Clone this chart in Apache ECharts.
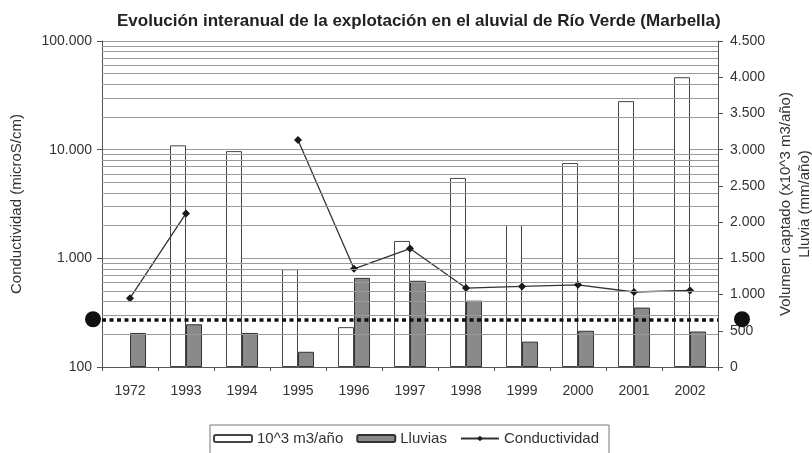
<!DOCTYPE html>
<html lang="es">
<head>
  <meta charset="UTF-8" />
  <title>Río Verde</title>
  <script src="https://cdn.jsdelivr.net/npm/echarts@6/dist/echarts.min.js"></script>
</head>
<body style="margin:0;background:#fff;">
  <div id="main" style="width: 812px; height: 453px;"></div>
  <script type="text/javascript">
    // datos
    var anios = ['1972', '1993', '1994', '1995', '1996', '1997', '1998', '1999', '2000', '2001', '2002']
    var volumen = [null, 3060, 2980, 1350, 550, 1740, 2610, 1960, 2815, 3670, 4000]   // 10^3 m3/año
    var lluvias = [470, 590, 470, 210, 1230, 1190, 915, 350, 500, 820, 490]           // mm/año
    var conductividad = [430, 2590, null, 12300, 800, 1230, 533, 551, 571, 490, 507]  // microS/cm
    var umbral = 275

    // lineas secundarias del eje logaritmico (2..9 de cada decada)
    var lineasLog = []
    ;[100, 1000, 10000].forEach(function (d) {
      for (var k = 2; k <= 9; k++) lineasLog.push({ yAxis: d * k })
    })

    function miles(v) {
      return String(v).replace(/\B(?=(\d{3})+(?!\d))/g, '.')
    }

    var myChart = echarts.init(document.getElementById('main'))
    var txt = '#333'
    var fuente = 'Liberation Sans, Arial, sans-serif'

    var option = {
      backgroundColor: '#fff',
      animation: false,
      textStyle: { fontFamily: fuente },
      title: {
        text: 'Evolución interanual de la explotación en el aluvial de Río Verde (Marbella)',
        left: 112,
        top: 8,
        textStyle: { fontSize: 17, fontWeight: 'bold', color: '#222', fontFamily: fuente }
      },
      legend: {
        data: ['10^3 m3/año', 'Lluvias', 'Conductividad'],
        left: 210,
        top: 425,
        itemWidth: 38,
        itemHeight: 7,
        itemGap: 13,
        padding: [6, 10, 14, 3],
        borderColor: '#777',
        borderWidth: 1,
        textStyle: { fontSize: 15, color: txt, fontFamily: fuente }
      },
      grid: { left: 102, right: 94, top: 41, bottom: 86, outerBoundsMode: 'none' },
      xAxis: {
        type: 'category',
        data: anios,
        axisLine: { lineStyle: { color: '#555' } },
        axisTick: { show: true, length: 4, lineStyle: { color: '#555' } },
        axisLabel: { fontSize: 14, color: txt, margin: 17 }
      },
      yAxis: [
        {
          type: 'log',
          logBase: 10,
          min: 100,
          max: 100000,
          name: 'Conductividad (microS/cm)',
          nameLocation: 'middle',
          nameRotate: 90,
          nameGap: 78,
          nameTextStyle: { fontSize: 15, color: txt },
          axisLine: { show: true, lineStyle: { color: '#555' } },
          axisTick: { show: true, length: 5, lineStyle: { color: '#555' } },
          axisLabel: { fontSize: 14, color: txt, margin: 10, formatter: miles },
          splitLine: { show: true, lineStyle: { color: '#999', width: 1 } }
        },
        {
          type: 'value',
          min: 0,
          max: 4500,
          interval: 500,
          position: 'right',
          name: 'Volumen captado (x10^3 m3/año)\nLluvia (mm/año)',
          nameLocation: 'middle',
          nameRotate: 90,
          nameGap: 57,
          nameTextStyle: { fontSize: 15, color: txt, lineHeight: 19 },
          axisLine: { show: true, lineStyle: { color: '#555' } },
          axisTick: { show: true, length: 5, lineStyle: { color: '#555' } },
          axisLabel: { fontSize: 14, color: txt, margin: 12, formatter: miles },
          splitLine: { show: false }
        }
      ],
      series: [
        {
          name: 'rejilla',
          type: 'line',
          yAxisIndex: 0,
          data: [],
          z: 0,
          silent: true,
          markLine: {
            silent: true,
            symbol: 'none',
            label: { show: false },
            lineStyle: { color: '#999', width: 1, type: 'solid' },
            data: lineasLog
          }
        },
        {
          name: '10^3 m3/año',
          type: 'bar',
          yAxisIndex: 1,
          data: volumen,
          barWidth: 16,
          barGap: '0%',
          itemStyle: { color: '#fff', borderColor: '#444', borderWidth: 1 }
        },
        {
          name: 'Lluvias',
          type: 'bar',
          yAxisIndex: 1,
          data: lluvias,
          barWidth: 16,
          itemStyle: { color: '#8a8a8a', borderColor: '#333', borderWidth: 1 }
        },
        {
          name: 'Conductividad',
          type: 'line',
          yAxisIndex: 0,
          data: conductividad,
          connectNulls: false,
          symbol: 'diamond',
          symbolSize: 8,
          itemStyle: { color: '#1a1a1a' },
          lineStyle: { color: '#333', width: 1.3 },
          z: 4,
          markLine: {
            silent: true,
            symbol: ['circle', 'circle'],
            symbolSize: 16,
            symbolRotate: [0, 0],
            symbolOffset: [[-9, 0], [24, 0]],
            label: { show: false },
            lineStyle: { color: '#111', width: 3.5, type: [4, 3.5] },
            itemStyle: { color: '#111' },
            data: [{ yAxis: umbral }]
          }
        }
      ]
    }

    myChart.setOption(option)
  </script>
</body>
</html>
